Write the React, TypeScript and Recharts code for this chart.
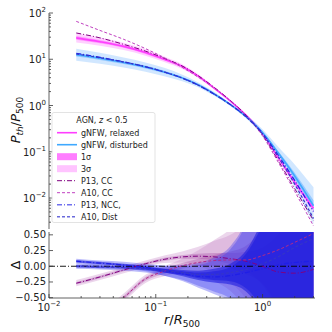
import { ComposedChart, Line, Area, XAxis, YAxis, ReferenceLine } from "recharts";

// radius r/R500 where the profiles are sampled
const radius = [0.018, 0.03, 0.05, 0.08, 0.12, 0.18, 0.25, 0.35, 0.5, 0.7, 1.0, 1.4, 2.0, 3.0];

// P_th / P_500 (top panel)
const relaxed = [29, 24, 19, 14, 10, 6.8, 4.3, 2.4, 1.25, 0.62, 0.25, 0.075, 0.022, 0.006];
const disturbed = [12.5, 10.5, 8.5, 6.8, 5.3, 3.9, 2.8, 1.8, 1.05, 0.58, 0.26, 0.095, 0.03, 0.0068];
const p13cc = [37, 29, 21, 15, 10.5, 7, 4.4, 2.5, 1.28, 0.62, 0.23, 0.065, 0.016, 0.0033];
const a10cc = [66, 42, 27, 17, 10.8, 6.5, 4.1, 2.4, 1.25, 0.6, 0.22, 0.06, 0.014, 0.0025];
const p13ncc = [13.5, 11, 8.8, 6.9, 5.3, 3.85, 2.75, 1.78, 1.05, 0.58, 0.25, 0.085, 0.024, 0.0051];
const a10dist = [13, 10.8, 8.7, 6.9, 5.3, 3.85, 2.75, 1.78, 1.04, 0.57, 0.24, 0.078, 0.02, 0.0036];

// band half widths, dex
const relaxedSig1 = [0.04, 0.035, 0.03, 0.03, 0.025, 0.02, 0.02, 0.015, 0.01, 0.01, 0.015, 0.02, 0.03, 0.04];
const relaxedSig3 = [0.1, 0.09, 0.08, 0.07, 0.06, 0.05, 0.04, 0.03, 0.02, 0.02, 0.03, 0.05, 0.07, 0.1];
const disturbedSig1 = [0.04, 0.035, 0.03, 0.03, 0.025, 0.02, 0.02, 0.015, 0.01, 0.012, 0.02, 0.04, 0.07, 0.12];
const disturbedSig3 = [0.13, 0.12, 0.11, 0.1, 0.09, 0.07, 0.05, 0.04, 0.03, 0.04, 0.07, 0.13, 0.25, 0.4];

// residuals Δ (bottom panel)
const dP13cc = [-0.27, -0.17, -0.06, 0.04, 0.11, 0.15, 0.16, 0.15, 0.12, 0.08, 0.0, -0.09, -0.11, -0.05];
const dA10cc = [-1.1, -0.8, -0.5, -0.2, -0.08, 0.01, 0.06, 0.09, 0.1, 0.1, 0.17, 0.26, 0.38, 0.52];
const dP13ncc = [0.08, 0.05, 0.02, -0.02, -0.07, -0.12, -0.16, -0.17, -0.15, -0.1, -0.04, 0.02, 0.06, 0.08];
const dA10dist = [0.0, -0.01, -0.02, -0.04, -0.07, -0.1, -0.13, -0.13, -0.1, -0.05, 0.04, 0.15, 0.3, 0.44];

// residual band half widths
const dRelaxedSig1 = [0.02, 0.02, 0.02, 0.02, 0.025, 0.03, 0.04, 0.06, 0.09, 0.15, 0.3, 0.6, 1, 1.5];
const dRelaxedSig3 = [0.05, 0.05, 0.05, 0.05, 0.06, 0.09, 0.15, 0.25, 0.38, 0.6, 1.0, 1.6, 2.5, 3];
const dDisturbedSig1 = [0.02, 0.02, 0.02, 0.025, 0.03, 0.04, 0.06, 0.09, 0.14, 0.3, 0.7, 1.2, 1.8, 2.4];
const dDisturbedSig3 = [0.04, 0.04, 0.05, 0.06, 0.08, 0.12, 0.18, 0.27, 0.42, 0.8, 1.8, 3, 4, 5];

// ticks
const xTicks = [0.01, 0.02, 0.03, 0.04, 0.05, 0.06, 0.07, 0.08, 0.09, 0.1, 0.2, 0.3, 0.4, 0.5, 0.6, 0.7, 0.8, 0.9, 1, 2, 3];
const yTicksTop = [
  0.003, 0.004, 0.005, 0.006, 0.007, 0.008, 0.009,
  0.01, 0.02, 0.03, 0.04, 0.05, 0.06, 0.07, 0.08, 0.09,
  0.1, 0.2, 0.3, 0.4, 0.5, 0.6, 0.7, 0.8, 0.9,
  1, 2, 3, 4, 5, 6, 7, 8, 9,
  10, 20, 30, 40, 50, 60, 70, 80, 90, 100,
];
const yTicksBottom = [-0.5, -0.25, 0, 0.25, 0.5];
const yTickLabelsBottom = ["−0.50", "−0.25", "0.00", "0.25", "0.50"];

const FONT = "DejaVu Sans";
const AXIS = "#3a3a3a";

const band = (v: number, w: number) => [v * Math.pow(10, -w), v * Math.pow(10, w)];
const dband = (v: number, w: number) => [v - w, v + w];

const topData = radius.map((x, i) => ({
  x,
  relaxed: relaxed[i],
  disturbed: disturbed[i],
  p13cc: p13cc[i],
  a10cc: a10cc[i],
  p13ncc: p13ncc[i],
  a10dist: a10dist[i],
  r1: band(relaxed[i], relaxedSig1[i]),
  r3: band(relaxed[i], relaxedSig3[i]),
  d1: band(disturbed[i], disturbedSig1[i]),
  d3: band(disturbed[i], disturbedSig3[i]),
}));

const bottomData = radius.map((x, i) => ({
  x,
  p13cc: dP13cc[i],
  a10cc: dA10cc[i],
  p13ncc: dP13ncc[i],
  a10dist: dA10dist[i],
  p13cc1: dband(dP13cc[i], dRelaxedSig1[i]),
  p13cc3: dband(dP13cc[i], dRelaxedSig3[i]),
  a10cc1: dband(dA10cc[i], dRelaxedSig1[i] * 1.5),
  a10cc3: dband(dA10cc[i], dRelaxedSig3[i] * 1.3),
  p13ncc1: dband(dP13ncc[i], dDisturbedSig1[i]),
  p13ncc3: dband(dP13ncc[i], dDisturbedSig3[i]),
  a10dist1: dband(dA10dist[i], dDisturbedSig1[i]),
  a10dist3: dband(dA10dist[i], dDisturbedSig3[i]),
}));

const isMajor = (v: number) => {
  const l = Math.log10(v);
  return Math.abs(l - Math.round(l)) < 1e-6;
};

const Pow = ({ x, y, exp, anchor }: any) => (
  <text x={x} y={y} textAnchor={anchor} fontFamily={FONT} fontSize={10} fill="#222">
    <tspan>10</tspan>
    <tspan dy={-5} fontSize={7}>{exp < 0 ? `−${-exp}` : `${exp}`}</tspan>
  </text>
);

// inward ticks like matplotlib, label only on majors
const xTick = (side: "bottom" | "top", labels: boolean) => (props: any) => {
  const { x, y, payload } = props;
  const major = isMajor(payload.value);
  const len = major ? 4 : 2;
  const dir = side === "bottom" ? -1 : 1;
  return (
    <g>
      <line x1={x} x2={x} y1={y} y2={y + dir * len} stroke={AXIS} strokeWidth={0.8} />
      {labels && major && <Pow x={x} y={y + 13} exp={Math.round(Math.log10(payload.value))} anchor="middle" />}
    </g>
  );
};

const yLogTick = (side: "left" | "right", labels: boolean) => (props: any) => {
  const { x, y, payload } = props;
  const major = isMajor(payload.value);
  const len = major ? 4 : 2;
  const dir = side === "left" ? 1 : -1;
  return (
    <g>
      <line x1={x} x2={x + dir * len} y1={y} y2={y} stroke={AXIS} strokeWidth={0.8} />
      {labels && major && <Pow x={x - 3} y={y + 4} exp={Math.round(Math.log10(payload.value))} anchor="end" />}
    </g>
  );
};

const yLinTick = (side: "left" | "right", labels: boolean) => (props: any) => {
  const { x, y, payload, index } = props;
  const dir = side === "left" ? 1 : -1;
  return (
    <g>
      <line x1={x} x2={x + dir * 4} y1={y} y2={y} stroke={AXIS} strokeWidth={0.8} />
      {labels && (
        <text x={x - 3} y={y + 3.5} textAnchor="end" fontFamily={FONT} fontSize={10} fill="#222">
          {yTickLabelsBottom[index]}
        </text>
      )}
    </g>
  );
};

const axisLine = { stroke: AXIS, strokeWidth: 0.8 };

function TopPanel() {
  return (
    <ComposedChart width={332} height={229} data={topData} margin={{ top: 13, right: 17, bottom: 0, left: 0 }}>
      <XAxis dataKey="x" type="number" scale="log" domain={[0.01, 3.1]} allowDataOverflow ticks={xTicks}
        height={0} tickSize={0} tickMargin={0} tickLine={false} axisLine={axisLine} tick={xTick("bottom", false)} interval={0} />
      <XAxis xAxisId="top" orientation="top" dataKey="x" type="number" scale="log" domain={[0.01, 3.1]} allowDataOverflow ticks={xTicks}
        height={0} tickSize={0} tickMargin={0} tickLine={false} axisLine={axisLine} tick={xTick("top", false)} interval={0} />
      <YAxis type="number" scale="log" domain={[0.00214, 100]} allowDataOverflow ticks={yTicksTop} width={49}
        tickSize={0} tickMargin={0} tickLine={false} axisLine={axisLine} tick={yLogTick("left", true)} interval={0} />
      <YAxis yAxisId="right" orientation="right" type="number" scale="log" domain={[0.00214, 100]} allowDataOverflow ticks={yTicksTop} width={0}
        tickSize={0} tickMargin={0} tickLine={false} axisLine={axisLine} tick={yLogTick("right", false)} interval={0} />

      <Area dataKey="d3" type="monotone" stroke="none" fill="#c9e3ff" fillOpacity={0.85} isAnimationActive={false} />
      <Area dataKey="r3" type="monotone" stroke="none" fill="#ffc4ff" fillOpacity={0.8} isAnimationActive={false} />
      <Area dataKey="d1" type="monotone" stroke="none" fill="#7fbcff" fillOpacity={0.7} isAnimationActive={false} />
      <Area dataKey="r1" type="monotone" stroke="none" fill="#ff7dff" fillOpacity={0.7} isAnimationActive={false} />

      <Line dataKey="relaxed" type="monotone" stroke="#ff3dff" strokeWidth={1.6} dot={false} activeDot={false} isAnimationActive={false} />
      <Line dataKey="disturbed" type="monotone" stroke="#3fa9ff" strokeWidth={1.6} dot={false} activeDot={false} isAnimationActive={false} />
      <Line dataKey="p13cc" type="monotone" stroke="#800080" strokeWidth={1} strokeDasharray="5 2 1 2" dot={false} activeDot={false} isAnimationActive={false} />
      <Line dataKey="a10cc" type="monotone" stroke="#c040c0" strokeWidth={1} strokeDasharray="3 2" dot={false} activeDot={false} isAnimationActive={false} />
      <Line dataKey="p13ncc" type="monotone" stroke="#1f1fe6" strokeWidth={1.2} strokeDasharray="5 2 1 2" dot={false} activeDot={false} isAnimationActive={false} />
      <Line dataKey="a10dist" type="monotone" stroke="#3535c8" strokeWidth={1.2} strokeDasharray="3 2" dot={false} activeDot={false} isAnimationActive={false} />
    </ComposedChart>
  );
}

function BottomPanel() {
  return (
    <ComposedChart width={332} height={332} data={bottomData} margin={{ top: 232, right: 17, bottom: 0, left: 0 }}>
      <XAxis dataKey="x" type="number" scale="log" domain={[0.01, 3.1]} allowDataOverflow ticks={xTicks}
        height={34} tickSize={0} tickMargin={0} tickLine={false} axisLine={axisLine} tick={xTick("bottom", true)} interval={0} />
      <XAxis xAxisId="top" orientation="top" dataKey="x" type="number" scale="log" domain={[0.01, 3.1]} allowDataOverflow ticks={xTicks}
        height={0} tickSize={0} tickMargin={0} tickLine={false} axisLine={axisLine} tick={xTick("top", false)} interval={0} />
      <YAxis type="number" domain={[-0.505, 0.545]} allowDataOverflow ticks={yTicksBottom} width={49}
        tickSize={0} tickMargin={0} tickLine={false} axisLine={axisLine} tick={yLinTick("left", true)} interval={0} />
      <YAxis yAxisId="right" orientation="right" type="number" domain={[-0.505, 0.545]} allowDataOverflow ticks={yTicksBottom} width={0}
        tickSize={0} tickMargin={0} tickLine={false} axisLine={axisLine} tick={yLinTick("right", false)} interval={0} />

      <Area dataKey="p13cc3" type="monotone" stroke="none" fill="#c98ac9" fillOpacity={0.35} isAnimationActive={false} />
      <Area dataKey="a10cc3" type="monotone" stroke="none" fill="#c98ac9" fillOpacity={0.35} isAnimationActive={false} />
      <Area dataKey="p13cc1" type="monotone" stroke="none" fill="#a0409f" fillOpacity={0.3} isAnimationActive={false} />
      <Area dataKey="a10cc1" type="monotone" stroke="none" fill="#a0409f" fillOpacity={0.3} isAnimationActive={false} />
      <Area dataKey="p13ncc3" type="monotone" stroke="none" fill="#3c3cf2" fillOpacity={0.35} isAnimationActive={false} />
      <Area dataKey="a10dist3" type="monotone" stroke="none" fill="#3c3cf2" fillOpacity={0.35} isAnimationActive={false} />
      <Area dataKey="p13ncc1" type="monotone" stroke="none" fill="#1e1ee0" fillOpacity={0.6} isAnimationActive={false} />
      <Area dataKey="a10dist1" type="monotone" stroke="none" fill="#1e1ee0" fillOpacity={0.6} isAnimationActive={false} />

      <ReferenceLine y={0} stroke="#000" strokeWidth={0.9} strokeDasharray="6 2 1 2" />

      <Line dataKey="p13cc" type="monotone" stroke="#800080" strokeWidth={1} strokeDasharray="5 2 1 2" dot={false} activeDot={false} isAnimationActive={false} />
      <Line dataKey="a10cc" type="monotone" stroke="#b02a8a" strokeWidth={1} strokeDasharray="3 2" dot={false} activeDot={false} isAnimationActive={false} />
      <Line dataKey="p13ncc" type="monotone" stroke="#1f1fe6" strokeWidth={1.2} strokeDasharray="5 2 1 2" dot={false} activeDot={false} isAnimationActive={false} />
      <Line dataKey="a10dist" type="monotone" stroke="#3535c8" strokeWidth={1.2} strokeDasharray="3 2" dot={false} activeDot={false} isAnimationActive={false} />
    </ComposedChart>
  );
}

const legendItems = [
  { label: "gNFW, relaxed", kind: "line", color: "#ff3dff", dash: undefined, w: 1.6 },
  { label: "gNFW, disturbed", kind: "line", color: "#3fa9ff", dash: undefined, w: 1.6 },
  { label: "1σ", kind: "patch", color: "#ff7dff" },
  { label: "3σ", kind: "patch", color: "#ffc4ff" },
  { label: "P13, CC", kind: "line", color: "#800080", dash: "5 2 1 2", w: 1 },
  { label: "A10, CC", kind: "line", color: "#c040c0", dash: "3 2", w: 1 },
  { label: "P13, NCC,", kind: "line", color: "#7070ee", dash: "5 2 1 2", w: 1.4 },
  { label: "A10, Dist", kind: "line", color: "#6a6adc", dash: "3 2", w: 1.4 },
];

function Overlay() {
  return (
    <svg width={332} height={332} style={{ position: "absolute", left: 0, top: 0, pointerEvents: "none" }}>
      {/* axis labels */}
      <text transform="translate(20,120) rotate(-90)" textAnchor="middle" fontFamily={FONT} fontSize={13} fill="#111">
        <tspan fontStyle="italic">P</tspan>
        <tspan fontStyle="italic" fontSize={9} dy={3}>th</tspan>
        <tspan dy={-3}>/</tspan>
        <tspan fontStyle="italic">P</tspan>
        <tspan fontSize={9} dy={3}>500</tspan>
      </text>
      <text transform="translate(20,265) rotate(-90)" textAnchor="middle" fontFamily={FONT} fontSize={13} fill="#111">Δ</text>
      <text x={182} y={324} textAnchor="middle" fontFamily={FONT} fontSize={13} fill="#111">
        <tspan fontStyle="italic">r</tspan>
        <tspan>/</tspan>
        <tspan fontStyle="italic">R</tspan>
        <tspan fontSize={9} dy={3}>500</tspan>
      </text>

      {/* legend */}
      <rect x={52} y={112.5} width={103} height={110} rx={2} fill="#fff" fillOpacity={0.85} stroke="#dcdcdc" strokeWidth={0.8} />
      <text x={102} y={123} textAnchor="middle" fontFamily={FONT} fontSize={8} fill="#222">AGN, <tspan fontStyle="italic">z</tspan> &lt; 0.5</text>
      {legendItems.map((it, i) => {
        const cy = 132.7 + i * 12;
        return (
          <g key={it.label}>
            {it.kind === "line" ? (
              <line x1={57} x2={77} y1={cy} y2={cy} stroke={it.color} strokeWidth={it.w} strokeDasharray={it.dash} />
            ) : (
              <rect x={57} y={cy - 3.5} width={20} height={7} fill={it.color} />
            )}
            <text x={81} y={cy + 3} fontFamily={FONT} fontSize={8} fill="#222">{it.label}</text>
          </g>
        );
      })}
    </svg>
  );
}

export default function App() {
  return (
    <div style={{ position: "absolute", left: 0, top: 0, width: 332, height: 332, background: "#fff" }}>
      <div style={{ position: "absolute", left: 0, top: 0 }}>
        <TopPanel />
      </div>
      <div style={{ position: "absolute", left: 0, top: 0 }}>
        <BottomPanel />
      </div>
      <Overlay />
    </div>
  );
}
